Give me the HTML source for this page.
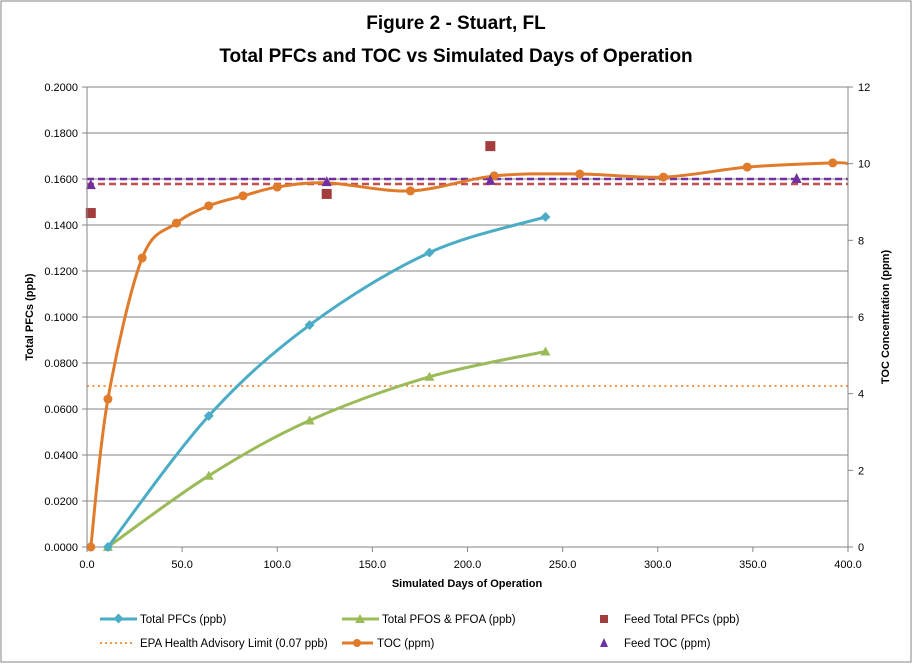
<!DOCTYPE html>
<html><head><meta charset="utf-8"><style>
body{margin:0;background:#fff}
svg{display:block;font-family:"Liberation Sans",sans-serif}
</style></head><body>
<svg id="c" width="913" height="664" viewBox="0 0 913 664">
<rect x="1" y="1" width="910" height="661" fill="#fff" stroke="#868686"/>
<text x="456" y="29" text-anchor="middle" font-size="19" font-weight="bold">Figure 2 - Stuart, FL</text>
<text x="456" y="62" text-anchor="middle" font-size="19" font-weight="bold">Total PFCs and TOC vs Simulated Days of Operation</text>
<g id="grid"></g><g id="marks"></g><g id="axes"></g>
<text transform="translate(33,317) rotate(-90)" text-anchor="middle" font-size="11" font-weight="bold">Total PFCs  (ppb)</text>
<text transform="translate(889,317) rotate(-90)" text-anchor="middle" font-size="11" font-weight="bold">TOC Concentration (ppm)</text>
<text x="467" y="587" text-anchor="middle" font-size="11" font-weight="bold">Simulated Days  of Operation</text>
<g font-size="11.5">
<g><line x1="100" y1="619" x2="137" y2="619" stroke="#4bacc6" stroke-width="3"/><rect x="115" y="615" width="7" height="7" fill="#4bacc6" transform="rotate(45 118.5 618.5)"/><text x="140" y="623">Total PFCs (ppb)</text></g>
<g><line x1="342" y1="619" x2="379" y2="619" stroke="#9bbb59" stroke-width="3"/><polygon points="360,614 365,623 355,623" fill="#9bbb59"/><text x="382" y="623">Total PFOS &amp; PFOA (ppb)</text></g>
<g><rect x="600" y="615" width="8" height="8" fill="#a33c3c"/><text x="624" y="623">Feed Total PFCs (ppb)</text></g>
<g><line x1="100" y1="643" x2="134" y2="643" stroke="#f79646" stroke-width="2" stroke-dasharray="2,3"/><text x="140" y="647">EPA Health Advisory Limit (0.07 ppb)</text></g>
<g><line x1="342" y1="643" x2="373" y2="643" stroke="#e07b2b" stroke-width="3"/><circle cx="357" cy="643" r="4" fill="#e07b2b"/><text x="377" y="647">TOC (ppm)</text></g>
<g><polygon points="604,638 608,647 600,647" fill="#7030a0"/><text x="624" y="647">Feed TOC (ppm)</text></g>
</g>
</svg>
<script>
const xTicks=[0,50,100,150,200,250,300,350,400];
const yTicks=[0,0.02,0.04,0.06,0.08,0.1,0.12,0.14,0.16,0.18,0.2];
const y2Ticks=[0,2,4,6,8,10,12];
const pfcDays=[11,64,117,180,241];
const pfcVals=[0,0.057,0.0965,0.128,0.1435];
const pfosDays=[11,64,117,180,241];
const pfosVals=[0,0.031,0.055,0.074,0.085];
const tocDays=[2,11,29,47,64,82,100,126,170,214,259,303,347,392,400];
const tocVals=[0,3.86,7.54,8.45,8.9,9.16,9.39,9.5,9.29,9.68,9.73,9.65,9.91,10.02,10.0];
const tocMarkerShown=[1,1,1,1,1,1,1,0,1,1,1,1,1,1,0];
const feedPfcDays=[2,126,212];
const feedPfcVals=[0.1452,0.1535,0.1743];
const feedTocDays=[2,126,212,373];
const feedTocVals=[9.44,9.52,9.55,9.6];
const feedPfcLine=0.1578, feedTocLine=9.6, epaLimit=0.07;
const X0=87,X1=848,Y0=547,Y1=87;
const xs=d=>X0+d*(X1-X0)/400, ys=v=>Y0-v*(Y0-Y1)/0.2, y2s=v=>Y0-v*(Y0-Y1)/12;
const NS='http://www.w3.org/2000/svg';
function mk(p,t,a){const e=document.createElementNS(NS,t);for(const k in a)e.setAttribute(k,a[k]);p.appendChild(e);return e;}
const grid=document.getElementById('grid'),marks=document.getElementById('marks'),axes=document.getElementById('axes');
yTicks.forEach((v,i)=>{
 const l=mk(grid,'line',{x1:X0-5,x2:X1,y1:ys(v),y2:ys(v),stroke:'#868686','stroke-width':1});
 
 
 const t=mk(axes,'text',{x:78,y:ys(v)+4,'text-anchor':'end','font-size':11});t.textContent=v.toFixed(4);
 
 
});
y2Ticks.forEach(v=>{
 mk(axes,'line',{x1:X1,x2:X1+5,y1:y2s(v),y2:y2s(v),stroke:'#868686'});
 const t=mk(axes,'text',{x:858,y:y2s(v)+4,'font-size':11});t.textContent=v;
 
 
});
mk(axes,'line',{x1:X0,x2:X0,y1:Y1,y2:Y0,stroke:'#868686'});
mk(axes,'line',{x1:X1,x2:X1,y1:Y1,y2:Y0,stroke:'#868686'});
xTicks.forEach(v=>{
 mk(axes,'line',{x1:xs(v),x2:xs(v),y1:Y0,y2:Y0+5,stroke:'#868686'});
 const t=mk(axes,'text',{x:xs(v),y:568,'text-anchor':'middle','font-size':11});t.textContent=v.toFixed(1);
 
 
});
function smooth(P){let d='M'+P[0][0]+','+P[0][1];for(let i=0;i<P.length-1;i++){const p0=P[i-1]||P[i],p1=P[i],p2=P[i+1],p3=P[i+2]||p2;const t=0.5/3;
 d+=' C'+(p1[0]+(p2[0]-p0[0])*t)+','+(p1[1]+(p2[1]-p0[1])*t)+' '+(p2[0]-(p3[0]-p1[0])*t)+','+(p2[1]-(p3[1]-p1[1])*t)+' '+p2[0]+','+p2[1];}return d;}
let h=mk(marks,'line',{x1:X0,x2:X1,y1:y2s(feedTocLine),y2:y2s(feedTocLine),stroke:'#7030a0','stroke-width':2.5,'stroke-dasharray':'7,4'});

h=mk(marks,'line',{x1:X0,x2:X1,y1:ys(feedPfcLine),y2:ys(feedPfcLine),stroke:'#c0504d','stroke-width':2.5,'stroke-dasharray':'7,4'});

h=mk(marks,'line',{x1:X0,x2:X1,y1:ys(epaLimit),y2:ys(epaLimit),stroke:'#f79646','stroke-width':2,'stroke-dasharray':'2,3.5'});

function series(days,vals,sc,col,name,marker,shown){
 const P=days.map((d,i)=>[xs(d),sc(vals[i])]);
 const p=mk(marks,'path',{d:smooth(P),fill:'none',stroke:col,'stroke-width':3});
 
 P.forEach((q,i)=>{if(shown&&!shown[i])return;let m;
  if(marker==='d')m=mk(marks,'rect',{x:q[0]-3.5,y:q[1]-3.5,width:7,height:7,fill:col,transform:`rotate(45 ${q[0]} ${q[1]})`});
  else if(marker==='t')m=mk(marks,'polygon',{points:`${q[0]},${q[1]-5} ${q[0]+5},${q[1]+4} ${q[0]-5},${q[1]+4}`,fill:col});
  else m=mk(marks,'circle',{cx:q[0],cy:q[1],r:4.5,fill:col});
  });
}
series(pfosDays,pfosVals,ys,'#9bbb59','pfos-pfoa','t');
series(pfcDays,pfcVals,ys,'#4bacc6','total-pfcs','d');
series(tocDays,tocVals,y2s,'#e07b2b','toc','c',tocMarkerShown);
feedPfcDays.forEach((d,i)=>{const m=mk(marks,'rect',{x:xs(d)-5,y:ys(feedPfcVals[i])-5,width:10,height:10,fill:'#a33c3c'});
 });
feedTocDays.forEach((d,i)=>{const x=xs(d),y=y2s(feedTocVals[i]);const m=mk(marks,'polygon',{points:`${x},${y-6} ${x+5},${y+4} ${x-5},${y+4}`,fill:'#7030a0'});
 });
</script>
</body></html>
